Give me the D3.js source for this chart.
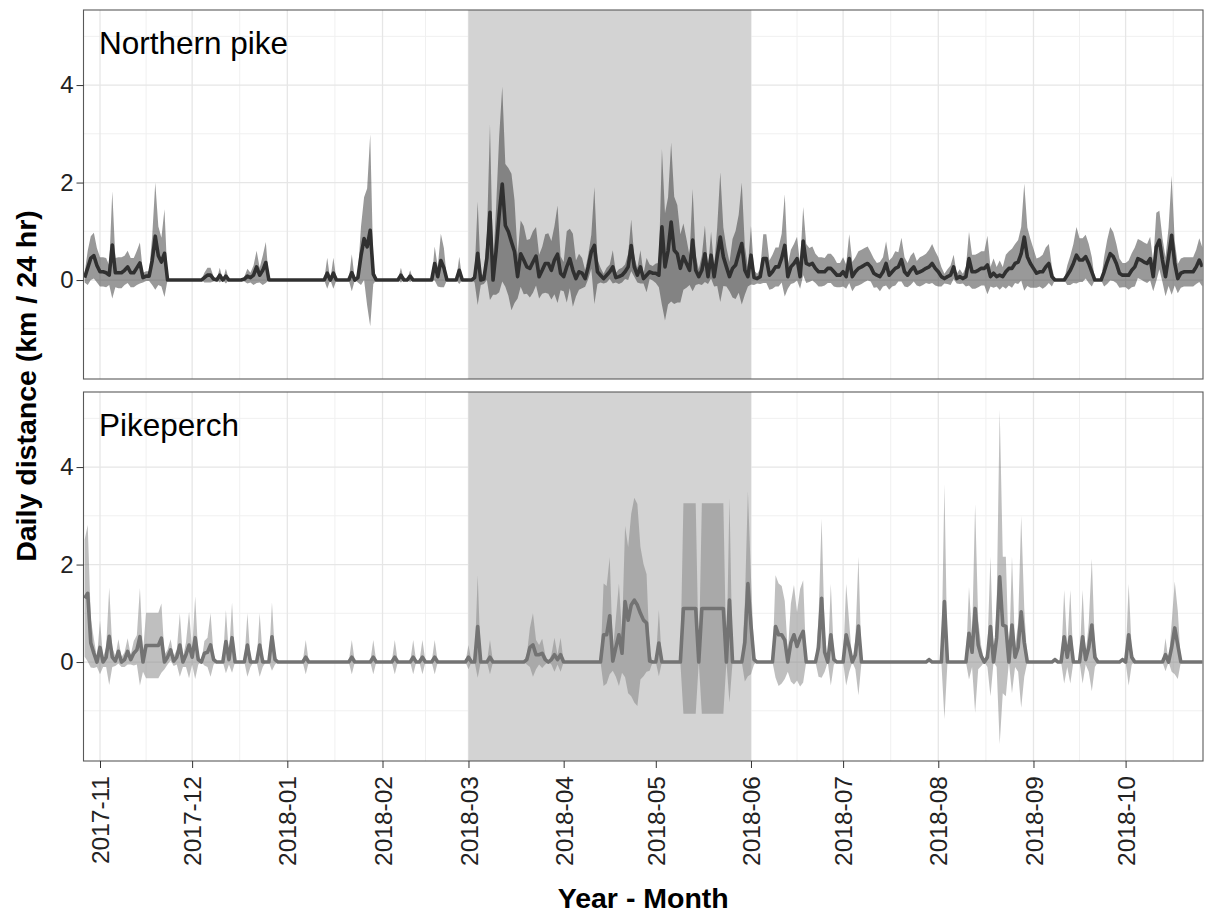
<!DOCTYPE html>
<html>
<head>
<meta charset="utf-8">
<script src="https://cdn.jsdelivr.net/npm/d3@7"></script>
<style>
  body { margin: 0; background: #fff; }
  text { font-family: "Liberation Sans", Arial, Helvetica, sans-serif; }
</style>
</head>
<body>
<div id="chart"></div>
<script>
(function () {

  // ---- data: one value per day, 27 Oct 2017 .. 26 Oct 2018 ----
  var firstDay = new Date(2017, 9, 27);
  var lastDay = new Date(2018, 9, 26);

  var speciesNames = ["Northern pike", "Pikeperch"];

  // Northern pike, daily mean distance (km / 24 hr)
  var pikeMean = [
    0.05, 0.25, 0.45, 0.5, 0.3,
    0.17, 0.17, 0.15, 0.1, 0.72, 0.15, 0.15, 0.15, 0.2, 0.27, 0.15, 0.15, 0.25, 0.35, 0.05, 0.08, 0.08, 0.4, 0.9, 0.5, 0.37, 0.55, 0, 0, 0, 0, 0, 0, 0, 0,
    0, 0, 0, 0, 0.05, 0.1, 0.1, 0.02, 0, 0.1, 0, 0.08, 0, 0, 0, 0, 0, 0.02, 0.08, 0.05, 0.1, 0.27, 0.1, 0.2, 0.36, 0, 0, 0, 0, 0, 0,
    0, 0, 0, 0, 0, 0, 0, 0, 0, 0, 0, 0, 0, 0.14, 0, 0.14, 0, 0, 0, 0, 0, 0.15, 0, 0.05, 0.5, 0.85, 0.68, 1.02, 0.12, 0, 0,
    0, 0, 0, 0, 0, 0, 0.1, 0, 0, 0.08, 0, 0, 0, 0, 0, 0, 0, 0.34, 0.07, 0.4, 0.25, 0, 0, 0, 0, 0.2, 0, 0,
    0, 0, 0.05, 0.55, 0, 0.02, 0.45, 1.39, 0, 0.6, 1.35, 1.97, 1.12, 0.99, 0.78, 0.58, 0.07, 0.54, 0.41, 0.27, 0.24, 0.37, 0.49, 0.07, 0.2, 0.34, 0.34, 0.2, 0.41, 0.53, 0.14,
    0.07, 0.27, 0.44, 0.2, 0.03, 0.17, 0.14, 0.03, 0.27, 0.58, 0.71, 0.17, 0.1, 0.03, 0.1, 0.17, 0.27, 0.05, 0.07, 0.1, 0.17, 0.27, 0.71, 0.27, 0.1, 0.27, 0.03, 0.1, 0.17, 0.14,
    0.14, 0.1, 1.09, 0.27, 0.6, 1.19, 0.61, 0.54, 0.24, 0.48, 0.34, 0.2, 0.82, 0.2, 0.07, 0.2, 0.54, 0.07, 0.51, 0.07, 0.48, 0.88, 0.48, 0.27, 0.07, 0.24, 0.31, 0.54, 0.75, 0.2, 0.07,
    0.51, 0.05, 0.03, 0.07, 0.44, 0.44, 0.1, 0.17, 0.27, 0.27, 0.45, 0.71, 0.07, 0.27, 0.34, 0.44, 0.07, 0.8, 0.34, 0.31, 0.34, 0.24, 0.17, 0.17, 0.17, 0.24, 0.24, 0.17, 0.1, 0.1,
    0.17, 0.07, 0.44, 0.07, 0.17, 0.24, 0.27, 0.31, 0.34, 0.27, 0.14, 0.1, 0.07, 0.17, 0.34, 0.1, 0.17, 0.24, 0.27, 0.42, 0.17, 0.1, 0.2, 0.27, 0.14, 0.17, 0.2, 0.24, 0.27, 0.34, 0.24,
    0.17, 0.07, 0.03, 0.07, 0.1, 0.27, 0.03, 0.07, 0.03, 0.07, 0.44, 0.17, 0.17, 0.2, 0.24, 0.24, 0.31, 0.07, 0.14, 0.07, 0.1, 0.07, 0.17, 0.24, 0.24, 0.34, 0.37, 0.54, 0.88, 0.48, 0.34,
    0.24, 0.14, 0.17, 0.17, 0.27, 0.34, 0.07, 0, 0, 0, 0, 0.1, 0.2, 0.34, 0.51, 0.41, 0.41, 0.48, 0.34, 0.17, 0, 0, 0, 0.17, 0.37, 0.54, 0.48, 0.34, 0.14, 0.1,
    0.1, 0.1, 0.2, 0.27, 0.44, 0.41, 0.37, 0.34, 0.44, 0.07, 0.68, 0.82, 0.41, 0.07, 0.48, 0.92, 0.34, 0.03, 0.14, 0.17, 0.17, 0.17, 0.17, 0.27, 0.41, 0.27
  ];

  // Northern pike, daily spread (half width of the band)
  var pikeSd = [
    0.1, 0.35, 0.45, 0.47, 0.35,
    0.3, 0.3, 0.3, 0.2, 1.1, 0.3, 0.32, 0.32, 0.3, 0.33, 0.3, 0.3, 0.35, 0.42, 0.1, 0.1, 0.1, 0.5, 1.1, 0.6, 0.5, 0.9, 0, 0, 0, 0, 0, 0, 0, 0,
    0, 0, 0, 0, 0.1, 0.15, 0.15, 0.05, 0, 0.15, 0, 0.15, 0, 0, 0, 0, 0, 0.05, 0.15, 0.1, 0.2, 0.33, 0.15, 0.3, 0.42, 0, 0, 0, 0, 0, 0,
    0, 0, 0, 0, 0, 0, 0, 0, 0, 0, 0, 0, 0, 0.32, 0, 0.32, 0, 0, 0, 0, 0, 0.38, 0, 0.1, 0.6, 0.85, 1.2, 1.97, 0.2, 0, 0,
    0, 0, 0, 0, 0, 0, 0.15, 0, 0, 0.12, 0, 0, 0, 0, 0, 0, 0, 0.35, 0.2, 0.55, 0.4, 0, 0, 0, 0, 0.28, 0, 0,
    0, 0, 0.1, 1.06, 0.1, 0.1, 0.45, 1.8, 0.3, 0.9, 1.6, 2.0, 1.26, 1.31, 1.4, 1.05, 0.45, 0.68, 0.7, 0.55, 0.6, 0.63, 0.6, 0.45, 0.48, 0.6, 0.62, 0.6, 0.7, 1.0, 0.35,
    0.3, 0.73, 0.61, 0.75, 0.37, 0.37, 0.31, 0.17, 0.25, 0.35, 1.2, 0.25, 0.15, 0.1, 0.15, 0.15, 0.34, 0.1, 0.15, 0.15, 0.15, 0.27, 0.53, 0.2, 0.15, 0.34, 0.1, 0.35, 0.15, 0.15,
    0.2, 0.25, 1.6, 1.1, 1.1, 1.63, 1.1, 1.0, 0.7, 0.68, 0.5, 0.3, 1.05, 0.3, 0.15, 0.3, 0.58, 0.15, 0.48, 0.2, 0.6, 1.33, 0.6, 0.4, 0.3, 0.6, 0.7, 0.8, 1.25, 0.5, 0.2,
    0.6, 0.15, 0.1, 0.15, 0.5, 0.5, 0.3, 0.35, 0.4, 0.4, 0.5, 1.05, 0.25, 0.35, 0.4, 0.45, 0.25, 0.7, 0.4, 0.35, 0.35, 0.3, 0.3, 0.3, 0.28, 0.3, 0.3, 0.3, 0.25, 0.25,
    0.3, 0.25, 0.5, 0.3, 0.3, 0.35, 0.35, 0.35, 0.35, 0.3, 0.3, 0.25, 0.3, 0.3, 0.45, 0.3, 0.3, 0.35, 0.3, 0.45, 0.3, 0.25, 0.3, 0.3, 0.25, 0.3, 0.3, 0.3, 0.35, 0.4, 0.35,
    0.3, 0.2, 0.1, 0.15, 0.2, 0.25, 0.1, 0.15, 0.1, 0.2, 0.55, 0.35, 0.35, 0.35, 0.35, 0.35, 0.6, 0.2, 0.3, 0.2, 0.3, 0.2, 0.35, 0.35, 0.4, 0.4, 0.45, 0.55, 1.1, 0.6, 0.5,
    0.4, 0.3, 0.3, 0.35, 0.4, 0.4, 0.2, 0, 0, 0, 0, 0.2, 0.3, 0.4, 0.58, 0.45, 0.45, 0.45, 0.4, 0.3, 0, 0, 0, 0.3, 0.45, 0.55, 0.5, 0.4, 0.3, 0.25,
    0.25, 0.3, 0.35, 0.4, 0.4, 0.4, 0.4, 0.4, 0.45, 0.3, 0.7, 0.6, 0.45, 0.4, 0.6, 1.22, 0.45, 0.3, 0.3, 0.3, 0.3, 0.3, 0.3, 0.35, 0.45, 0.4
  ];

  // Pikeperch, daily mean distance (km / 24 hr)
  var perchMean = [
    1.31, 1.41, 0.39, 0.18, 0,
    0.3, 0, 0.1, 0.53, 0.1, 0.02, 0.22, 0, 0.05, 0.22, 0.05, 0.18, 0.25, 0.52, 0, 0.34, 0.34, 0.34, 0.34, 0.34, 0.49, 0, 0.1, 0.25, 0.02, 0.1, 0.35, 0, 0.15, 0.35,
    0.1, 0.5, 0.05, 0, 0.18, 0.2, 0.35, 0.05, 0, 0, 0, 0.42, 0.05, 0.5, 0, 0, 0, 0, 0.35, 0, 0, 0, 0.35, 0, 0, 0, 0.52, 0.05, 0, 0, 0,
    0, 0, 0, 0, 0, 0, 0.1, 0, 0, 0, 0, 0, 0, 0, 0, 0, 0, 0, 0, 0, 0, 0.1, 0, 0, 0, 0, 0, 0, 0.1, 0, 0,
    0, 0, 0, 0, 0.1, 0, 0, 0, 0, 0, 0.1, 0, 0, 0.1, 0, 0, 0, 0.1, 0, 0, 0, 0, 0, 0, 0, 0, 0, 0,
    0.1, 0, 0, 0.73, 0, 0, 0, 0.1, 0, 0, 0, 0, 0, 0, 0, 0, 0, 0, 0, 0.05, 0.3, 0.35, 0.15, 0.15, 0.18, 0.05, 0, 0.05, 0.15, 0.05, 0.15,
    0, 0, 0, 0, 0, 0, 0, 0, 0, 0, 0, 0, 0, 0.56, 0.56, 0.95, 0.02, 0.3, 0.56, 0.18, 1.24, 0.86, 1.17, 1.27, 1.17, 1.0, 0.86, 0.8, 0.02, 0,
    0, 0.39, 0, 0, 0, 0, 0, 0, 0, 1.1, 1.1, 1.1, 1.1, 1.1, 0, 1.1, 1.1, 1.1, 1.1, 1.1, 1.1, 1.1, 1.1, 0, 1.27, 0, 0, 0, 0, 0.4, 1.61,
    0.75, 0.05, 0, 0, 0, 0, 0, 0, 0.73, 0.56, 0.56, 0.45, 0, 0.4, 0.56, 0.32, 0.5, 0.63, 0, 0, 0, 0, 0.3, 1.31, 0.2, 0, 0.56, 0.05, 0, 0,
    0, 0.56, 0.3, 0, 0.15, 0.74, 0, 0, 0, 0, 0, 0, 0, 0, 0, 0, 0, 0, 0, 0, 0, 0, 0, 0, 0, 0, 0, 0, 0.05, 0, 0,
    0, 0, 1.24, 0, 0, 0, 0, 0, 0, 0, 0.59, 0.2, 1.1, 0.35, 0.12, 0, 0.1, 0.73, 0, 0.5, 1.75, 0.76, 0.73, 0, 0.76, 0.1, 0.3, 1.03, 0.4, 0, 0,
    0, 0, 0, 0, 0, 0, 0, 0.05, 0, 0, 0.52, 0.1, 0.52, 0, 0, 0, 0.52, 0.05, 0.3, 0.76, 0.1, 0, 0, 0, 0, 0, 0, 0, 0, 0.05,
    0, 0.56, 0.1, 0, 0, 0, 0, 0, 0, 0, 0, 0, 0, 0.15, 0, 0.3, 0.7, 0.35, 0, 0, 0, 0, 0, 0, 0, 0
  ];

  // Pikeperch, daily spread (half width of the band)
  var perchSd = [
    1.2, 1.4, 0.5, 0.3, 0.1,
    0.55, 0.1, 0.2, 1.0, 0.2, 0.1, 0.25, 0.1, 0.15, 0.27, 0.1, 0.25, 0.3, 1.0, 0.2, 0.67, 0.67, 0.67, 0.67, 0.67, 0.71, 0.15, 0.15, 0.22, 0.1, 0.15, 0.65, 0.1, 0.25, 0.68,
    0.15, 0.85, 0.1, 0, 0.25, 0.3, 0.65, 0.1, 0, 0, 0, 0.65, 0.1, 0.72, 0, 0, 0, 0, 0.65, 0.1, 0, 0, 0.65, 0.1, 0, 0, 0.7, 0.1, 0, 0, 0,
    0, 0, 0, 0, 0, 0, 0.35, 0, 0, 0, 0, 0, 0, 0, 0, 0, 0, 0, 0, 0, 0, 0.35, 0, 0, 0, 0, 0, 0, 0.35, 0, 0,
    0, 0, 0, 0, 0.35, 0, 0, 0, 0, 0, 0.35, 0, 0, 0.35, 0, 0, 0, 0.35, 0, 0, 0, 0, 0, 0, 0, 0, 0, 0,
    0.25, 0, 0, 1.05, 0, 0, 0, 0.35, 0, 0, 0, 0, 0, 0, 0, 0, 0, 0, 0, 0.1, 0.4, 0.65, 0.3, 0.2, 0.3, 0.1, 0, 0.1, 0.35, 0.1, 0.35,
    0, 0, 0, 0, 0, 0, 0, 0, 0, 0, 0, 0, 0, 1.05, 1.0, 1.2, 0.2, 0.6, 1.05, 0.4, 1.55, 1.5, 1.87, 2.1, 2.07, 1.36, 1.15, 1.0, 0.2, 0,
    0, 0.68, 0, 0, 0, 0, 0, 0, 0, 2.16, 2.16, 2.16, 2.16, 2.16, 0, 2.16, 2.16, 2.16, 2.16, 2.16, 2.16, 2.16, 2.16, 0, 2.1, 0, 0, 0, 0, 0.8, 1.9,
    1.0, 0.1, 0, 0, 0, 0, 0, 0, 1.05, 1.05, 1.0, 0.8, 0.2, 0.8, 1.02, 0.7, 1.0, 1.05, 0, 0, 0, 0, 0.6, 1.63, 0.4, 0, 1.04, 0.1, 0, 0,
    0, 1.04, 0.5, 0, 0.3, 1.42, 0, 0, 0, 0, 0, 0, 0, 0, 0, 0, 0, 0, 0, 0, 0, 0, 0, 0, 0, 0, 0, 0, 0.05, 0, 0,
    0, 0, 2.41, 0, 0, 0, 0, 0, 0, 0, 0.95, 0.3, 2.14, 0.5, 0.2, 0, 0.2, 1.43, 0, 0.6, 3.43, 1.4, 1.43, 0, 1.4, 0.2, 0.5, 1.97, 0.7, 0, 0,
    0, 0, 0, 0, 0, 0, 0, 0.05, 0, 0, 0.96, 0.2, 0.96, 0, 0, 0, 0.96, 0.1, 0.5, 1.36, 0.2, 0, 0, 0, 0, 0, 0, 0, 0, 0.05,
    0, 1.04, 0.15, 0, 0, 0, 0, 0, 0, 0, 0, 0, 0, 0.34, 0, 0.5, 0.95, 0.7, 0, 0, 0, 0, 0, 0, 0, 0
  ];

  var yTickValues = [0, 2, 4];
  var yMinorValues = [-1, 1, 3, 5];
  var shadeStart = new Date(2018, 2, 1);
  var shadeEnd = new Date(2018, 5, 1);

  // ---- layout ----
  var margin = { top: 10, left: 83.5, right: 4, bottom: 155 },
      panelGap = 13,
      width = 1207 - margin.left - margin.right,
      height = 916 - margin.top - margin.bottom,
      panelHeight = (height - panelGap) / 2;

  var svg = d3.select("#chart")
    .append("svg")
    .attr("width", 1207)
    .attr("height", 916)
    .append("g")
    .attr("transform", "translate(" + margin.left + "," + margin.top + ")");

  var days = d3.timeDay.range(firstDay, d3.timeDay.offset(lastDay, 1));

  // a little room either side of the first and last day
  var xPositionScale = d3.scaleTime()
    .domain([d3.timeHour.offset(firstDay, -9), d3.timeHour.offset(lastDay, 5)])
    .range([0, width]);

  var yPositionScale = d3.scaleLinear()
    .domain([-2.03, 5.54])
    .range([panelHeight, 0]);

  var monthTicks = d3.timeMonth.range(new Date(2017, 10, 1), new Date(2018, 9, 2));
  var monthEdges = d3.timeMonth.range(new Date(2017, 9, 1), new Date(2018, 10, 2));
  var minorDates = [];
  for (var m = 0; m < monthEdges.length - 1; m++) {
    var mid = new Date((monthEdges[m].getTime() + monthEdges[m + 1].getTime()) / 2);
    var xd = xPositionScale.domain();
    if (mid > xd[0] && mid < xd[1]) minorDates.push(mid);
  }

  var series = [
    { name: speciesNames[0], mean: pikeMean, sd: pikeSd,
      bandFill: "#333333", bandOpacity: 0.5, lineColor: "#303030" },
    { name: speciesNames[1], mean: perchMean, sd: perchSd,
      bandFill: "#808080", bandOpacity: 0.5, lineColor: "#737373" }
  ];

  svg.append("defs").append("clipPath")
    .attr("id", "panel-clip")
    .append("rect")
    .attr("width", width)
    .attr("height", panelHeight);

  var area = d3.area()
    .x(function (d) { return xPositionScale(d.date) })
    .y0(function (d) { return yPositionScale(d.mean - d.sd) })
    .y1(function (d) { return yPositionScale(d.mean + d.sd) });

  var line = d3.line()
    .x(function (d) { return xPositionScale(d.date) })
    .y(function (d) { return yPositionScale(d.mean) });

  series.forEach(function (s, p) {
    var rows = days.map(function (d, i) {
      return { date: d, mean: s.mean[i], sd: s.sd[i] }
    });

    var panel = svg.append("g")
      .attr("transform", "translate(0," + p * (panelHeight + panelGap) + ")");

    // grid, minor first
    panel.selectAll(".minor-h")
      .data(yMinorValues)
      .enter().append("line")
      .attr("x1", 0).attr("x2", width)
      .attr("y1", function (d) { return yPositionScale(d) })
      .attr("y2", function (d) { return yPositionScale(d) })
      .attr("stroke", "#f0f0f0")
      .attr("stroke-width", 1);

    panel.selectAll(".minor-v")
      .data(minorDates)
      .enter().append("line")
      .attr("y1", 0).attr("y2", panelHeight)
      .attr("x1", function (d) { return xPositionScale(d) })
      .attr("x2", function (d) { return xPositionScale(d) })
      .attr("stroke", "#f0f0f0")
      .attr("stroke-width", 1);

    panel.selectAll(".major-h")
      .data(yTickValues)
      .enter().append("line")
      .attr("x1", 0).attr("x2", width)
      .attr("y1", function (d) { return yPositionScale(d) })
      .attr("y2", function (d) { return yPositionScale(d) })
      .attr("stroke", "#e6e6e6")
      .attr("stroke-width", 1.3);

    panel.selectAll(".major-v")
      .data(monthTicks)
      .enter().append("line")
      .attr("y1", 0).attr("y2", panelHeight)
      .attr("x1", function (d) { return xPositionScale(d) })
      .attr("x2", function (d) { return xPositionScale(d) })
      .attr("stroke", "#e6e6e6")
      .attr("stroke-width", 1.3);

    // spawning season
    panel.append("rect")
      .attr("x", xPositionScale(shadeStart))
      .attr("width", xPositionScale(shadeEnd) - xPositionScale(shadeStart))
      .attr("y", 0)
      .attr("height", panelHeight)
      .attr("fill", "#d3d3d3");

    var plot = panel.append("g").attr("clip-path", "url(#panel-clip)");

    plot.append("path")
      .datum(rows)
      .attr("d", area)
      .attr("fill", s.bandFill)
      .attr("fill-opacity", s.bandOpacity);

    plot.append("path")
      .datum(rows)
      .attr("d", line)
      .attr("fill", "none")
      .attr("stroke", s.lineColor)
      .attr("stroke-width", 3.6)
      .attr("stroke-linejoin", "round");

    panel.append("rect")
      .attr("width", width)
      .attr("height", panelHeight)
      .attr("fill", "none")
      .attr("stroke", "#595959")
      .attr("stroke-width", 1.1);

    panel.append("text")
      .attr("x", 15.5)
      .attr("y", 44)
      .attr("font-size", 31.5)
      .attr("fill", "#000")
      .text(s.name);

    var yAxis = d3.axisLeft(yPositionScale)
      .tickValues(yTickValues)
      .tickFormat(d3.format("d"))
      .tickSize(7)
      .tickPadding(3);
    var ya = panel.append("g")
      .attr("class", "axis y-axis")
      .call(yAxis);
    ya.select(".domain").remove();
    ya.selectAll("line").attr("stroke", "#333");
    ya.selectAll("text")
      .attr("font-size", 24)
      .attr("font-family", "'Liberation Sans', Arial, sans-serif")
      .attr("fill", "#222");

    if (p === 1) {
      var xAxis = d3.axisBottom(xPositionScale)
        .tickValues(monthTicks)
        .tickSize(7)
        .tickFormat(d3.timeFormat("%Y-%m"));
      var xa = panel.append("g")
        .attr("class", "axis x-axis")
        .attr("transform", "translate(0," + panelHeight + ")")
        .call(xAxis);
      xa.select(".domain").remove();
      xa.selectAll("line").attr("stroke", "#333");
      xa.selectAll("text")
        .attr("font-size", 24.5)
        .attr("font-family", "'Liberation Sans', Arial, sans-serif")
        .attr("fill", "#222")
        .attr("text-anchor", "end")
        .attr("transform", "translate(0,7) rotate(-90)")
        .attr("x", -8)
        .attr("y", 0)
        .attr("dy", "0.35em");
    }
  });

  // axis titles
  svg.append("text")
    .attr("transform", "translate(" + (35.5 - margin.left) + "," + (386 - margin.top) + ") rotate(-90)")
    .attr("text-anchor", "middle")
    .attr("font-size", 28.5)
    .attr("font-weight", "bold")
    .attr("fill", "#000")
    .text("Daily distance (km / 24 hr)");

  svg.append("text")
    .attr("x", width / 2)
    .attr("y", 908 - margin.top)
    .attr("text-anchor", "middle")
    .attr("font-size", 28.5)
    .attr("font-weight", "bold")
    .attr("fill", "#000")
    .text("Year - Month");

})()
</script>
</body>
</html>
